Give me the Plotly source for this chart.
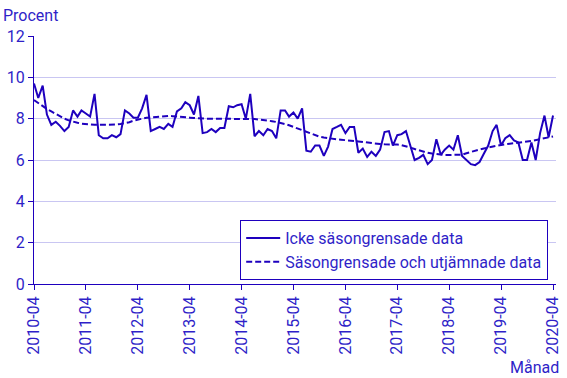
import plotly.graph_objects as go
import pandas as pd

months = pd.date_range("2010-04-01", "2020-04-01", freq="MS")

icke = [9.7, 9.0, 9.6, 8.2, 7.7, 7.85, 7.65, 7.4, 7.6, 8.4, 8.1, 8.4,
        8.25, 8.1, 9.2, 7.2, 7.05, 7.05, 7.2, 7.1, 7.25, 8.4, 8.25, 8.05,
        8.05, 8.5, 9.15, 7.4, 7.5, 7.6, 7.5, 7.75, 7.6, 8.35, 8.5, 8.8,
        8.65, 8.2, 9.1, 7.3, 7.35, 7.5, 7.35, 7.55, 7.55, 8.6, 8.55, 8.65,
        8.7, 8.0, 9.2, 7.15, 7.4, 7.2, 7.5, 7.4, 7.05, 8.4, 8.4, 8.1,
        8.3, 8.0, 8.5, 6.45, 6.4, 6.7, 6.7, 6.2, 6.65, 7.5, 7.6, 7.7,
        7.3, 7.6, 7.6, 6.35, 6.55, 6.15, 6.4, 6.2, 6.5, 7.35, 7.4, 6.7,
        7.2, 7.25, 7.4, 6.7, 6.0, 6.1, 6.25, 5.8, 6.0, 7.0, 6.25, 6.5,
        6.7, 6.5, 7.2, 6.2, 6.0, 5.8, 5.75, 5.9, 6.3, 6.7, 7.4, 7.7,
        6.7, 7.05, 7.2, 6.95, 6.85, 6.0, 6.0, 6.85, 6.0, 7.3, 8.15, 7.1,
        8.15]

trend = [8.9, 8.75, 8.6, 8.47, 8.35, 8.22, 8.1, 8.0, 7.92, 7.85, 7.8, 7.76,
         7.73, 7.71, 7.7, 7.7, 7.7, 7.7, 7.71, 7.72, 7.74, 7.78, 7.83, 7.9,
         7.96, 8.0, 8.04, 8.06, 8.08, 8.1, 8.12, 8.13, 8.12, 8.11, 8.1, 8.08,
         8.05, 8.03, 8.01, 8.0, 8.0, 8.0, 8.0, 8.0, 8.0, 8.0, 8.0, 8.0,
         7.99, 7.99, 7.99, 7.98, 7.96, 7.94, 7.92, 7.88, 7.84, 7.8, 7.74, 7.68,
         7.6, 7.52, 7.42, 7.34, 7.27, 7.2, 7.13, 7.09, 7.05, 7.02, 7.0, 6.98,
         6.97, 6.95, 6.92, 6.9, 6.87, 6.84, 6.8, 6.78, 6.77, 6.76, 6.76, 6.76,
         6.75, 6.72, 6.67, 6.6, 6.53, 6.46, 6.4, 6.35, 6.31, 6.28, 6.26, 6.24,
         6.24, 6.24, 6.24, 6.26, 6.33, 6.4, 6.46, 6.51, 6.56, 6.61, 6.65, 6.69,
         6.73, 6.76, 6.78, 6.81, 6.84, 6.86, 6.89, 6.92, 6.96, 7.0, 7.06, 7.1,
         7.14]

tick_vals = pd.date_range("2010-04-01", "2020-04-01", freq="12MS")
tick_text = [d.strftime("%Y-%m") for d in tick_vals]

LINE = "#1E00BE"
TEXT = "#2F1FC8"
GRID = "#C9C6F2"
FONT = "Roboto"

fig = go.Figure()
fig.add_trace(go.Scatter(x=months, y=icke, mode="lines", name="Icke säsongrensade data",
                         line=dict(color=LINE, width=2)))
fig.add_trace(go.Scatter(x=months, y=trend, mode="lines", name="Säsongrensade och utjämnade data",
                         line=dict(color=LINE, width=2, dash="6px,3px")))

fig.update_layout(
    width=567, height=378,
    margin=dict(l=34, r=11, t=36, b=94),
    paper_bgcolor="white", plot_bgcolor="white",
    font=dict(family=FONT, size=16, color=TEXT),
    showlegend=True,
    legend=dict(x=0.395, y=0.258, xanchor="left", yanchor="top",
                bordercolor=LINE, borderwidth=1, bgcolor="white",
                font=dict(size=16, color=TEXT), itemwidth=34,
                tracegroupgap=0),
    xaxis=dict(
        type="date", automargin=False,
        range=[pd.Timestamp("2010-04-01"), pd.Timestamp("2020-04-22")],
        tickvals=list(tick_vals), ticktext=tick_text, tickangle=-90,
        ticks="outside", ticklen=5, tickcolor=LINE, tickwidth=1,
        showline=True, linecolor=LINE, linewidth=1,
        showgrid=False, zeroline=False,
        tickfont=dict(size=16, color=TEXT),
    ),
    yaxis=dict(
        range=[0, 12], tickvals=[0, 2, 4, 6, 8, 10, 12], automargin=False,
        ticks="outside", ticklen=5, tickcolor=LINE, tickwidth=1,
        showline=True, linecolor=LINE, linewidth=1,
        showgrid=True, gridcolor=GRID, gridwidth=1, zeroline=False,
        tickfont=dict(size=16, color=TEXT),
    ),
    annotations=[
        dict(text="Procent", xref="paper", yref="paper", x=-0.063, y=1.0,
             xanchor="left", yanchor="bottom", yshift=9, showarrow=False,
             font=dict(size=16, color=TEXT)),
        dict(text="Månad", xref="paper", yref="paper", x=1.0, y=0,
             xanchor="right", yanchor="top", yshift=-72, xshift=5, showarrow=False,
             font=dict(size=16, color=TEXT)),
    ],
)

fig.write_html("out.html", config={"displayModeBar": False},
               post_script="document.body.style.margin='0';document.body.style.padding='0';")
